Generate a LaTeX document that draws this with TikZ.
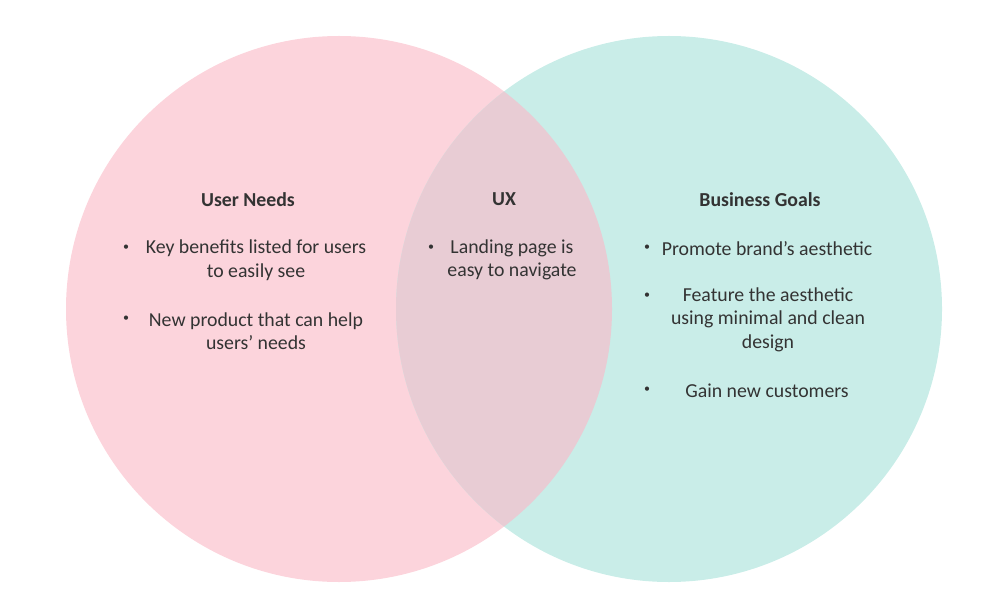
\documentclass[tikz,border=0pt]{standalone}
\usepackage{fontspec}
\setmainfont{Carlito}
\definecolor{pinkset}{RGB}{252,212,220}
\definecolor{tealset}{RGB}{201,237,232}
\definecolor{bothset}{RGB}{232,204,212}
\definecolor{inkgray}{RGB}{51,51,51}
\begin{document}
\begin{tikzpicture}[x=1pt,y=-1pt,
    title/.style={font=\fontsize{19.8}{22}\selectfont\bfseries,text=inkgray},
    item/.style={font=\fontsize{19.8}{23.5}\selectfont,text=inkgray,align=center,inner sep=0pt},
    dot/.style={font=\fontsize{12}{14}\selectfont,text=inkgray,inner sep=0pt}]
        \useasboundingbox (0,0) rectangle (1008,612);
        \fill[pinkset] (339,309) circle (273);
        \fill[tealset] (669,309) circle (273);
        \begin{scope}
            \clip (339,309) circle (273);
            \fill[bothset] (669,309) circle (273);
        \end{scope}
        % titles
        \node[title] (un) at (248,199.5) {User Needs};
        \node[title] (ux) at (504,199.5) {UX};
        \node[title] (bg) at (760,199.5) {Business Goals};
        % user needs
        \node[dot] (d1) at (126,248) {•};
        \node[item] (un1) at (256,260) {Key benefits listed for users\\to easily see};
        \node[dot] (d2) at (126,319) {•};
        \node[item] (un2) at (256,331) {New product that can help\\users’ needs};
        % ux
        \node[dot] (d3) at (431,248) {•};
        \node[item] (ux1) at (512,260) {Landing page is\\easy to navigate};
        % business goals
        \node[dot] (d4) at (647,248) {•};
        \node[item] (bg1) at (767,248.5) {Promote brand’s aesthetic};
        \node[dot] (d5) at (647,296) {•};
        \node[item] (bg2) at (768,319.5) {Feature the aesthetic\\using minimal and clean\\design};
        \node[dot] (d6) at (647,390) {•};
        \node[item] (bg3) at (767,390.5) {Gain new customers};
    \end{tikzpicture}
\end{document}
